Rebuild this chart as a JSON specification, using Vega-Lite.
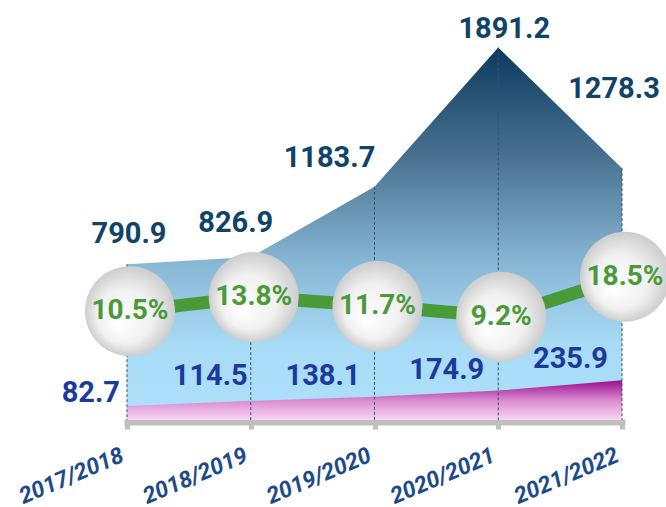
{
  "$schema": "https://vega.github.io/schema/vega-lite/v6.json",
  "width": 495,
  "height": 420,
  "autosize": {"type": "none"},
  "padding": {"left": 127, "top": 0, "right": 44, "bottom": 87},
  "background": "white",
  "config": {"view": {"stroke": null}, "font": "Roboto"},
  "data": {
    "values": [
      {"year": "2017/2018", "total": 790.9, "part": 82.7, "ratio": 0.105},
      {"year": "2018/2019", "total": 826.9, "part": 114.5, "ratio": 0.138},
      {"year": "2019/2020", "total": 1183.7, "part": 138.1, "ratio": 0.117},
      {"year": "2020/2021", "total": 1891.2, "part": 174.9, "ratio": 0.092},
      {"year": "2021/2022", "total": 1278.3, "part": 235.9, "ratio": 0.185}
    ]
  },
  "encoding": {
    "x": {
      "field": "year",
      "type": "ordinal",
      "sort": null,
      "scale": {"type": "point", "padding": 0},
      "axis": {
        "title": null,
        "offset": 2,
        "domainColor": "#bfbfbf",
        "domainWidth": 6,
        "domainCap": "square",
        "ticks": true,
        "tickColor": "#bfbfbf",
        "tickWidth": 5,
        "tickSize": 7,
        "labelAngle": -23,
        "labelAlign": "right",
        "labelBaseline": "middle",
        "labelPadding": 25,
        "labelOffset": -5,
        "labelFont": "Roboto",
        "labelFontWeight": "bold",
        "labelFontStyle": "italic",
        "labelFontSize": 23,
        "labelColor": "#1d4a8a",
        "labelOverlap": false,
        "labelLimit": 0,
        "grid": false
      }
    }
  },
  "layer": [
    {
      "mark": {
        "type": "area",
        "interpolate": "linear",
        "fill": {
          "gradient": "linear", "x1": 0, "y1": 0, "x2": 0, "y2": 1,
          "stops": [
            {"offset": 0, "color": "#0d3a5e"},
            {"offset": 0.3, "color": "#4a7391"},
            {"offset": 0.58, "color": "#88b7d5"},
            {"offset": 0.8, "color": "#a8dbf6"},
            {"offset": 1, "color": "#aee0fb"}
          ]
        }
      },
      "encoding": {
        "y": {"field": "total", "type": "quantitative", "scale": {"domain": [0, 2132], "nice": false, "zero": true}, "axis": null}
      }
    },
    {
      "mark": {
        "type": "area",
        "interpolate": "linear",
        "fill": {
          "gradient": "linear", "x1": 0, "y1": 0, "x2": 0, "y2": 1,
          "stops": [
            {"offset": 0, "color": "#9a0d8c"},
            {"offset": 0.5, "color": "#d98ad0"},
            {"offset": 1, "color": "#fad6f4"}
          ]
        }
      },
      "encoding": {
        "y": {"field": "part", "type": "quantitative", "scale": {"domain": [0, 2500], "nice": false, "zero": true}, "axis": null}
      }
    },
    {
      "mark": {"type": "rule", "color": "#2c5577", "strokeDash": [3, 2], "strokeWidth": 1},
      "encoding": {
        "y": {"field": "total", "type": "quantitative", "scale": {"domain": [0, 2132], "nice": false, "zero": true}, "axis": null},
        "y2": {"datum": 0}
      }
    },
    {
      "mark": {"type": "line", "color": "#4a9a3a", "strokeWidth": 13, "xOffset": 3},
      "encoding": {
        "y": {"field": "ratio", "type": "quantitative", "scale": {"domain": [-0.1481, 0.8286], "nice": false, "zero": false}, "axis": null}
      }
    },
    {
      "mark": {
        "type": "point",
        "filled": true,
        "size": 8100,
        "opacity": 1,
        "xOffset": 3,
        "fill": {
          "gradient": "radial", "x1": 0.35, "y1": 0.65, "r1": 0, "x2": 0.5, "y2": 0.5, "r2": 0.5,
          "stops": [
            {"offset": 0, "color": "#ffffff"},
            {"offset": 0.6, "color": "#f1f1f1"},
            {"offset": 1, "color": "#cdcdcd"}
          ]
        }
      },
      "encoding": {
        "y": {"field": "ratio", "type": "quantitative", "scale": {"domain": [-0.1481, 0.8286], "nice": false, "zero": false}, "axis": null}
      }
    },
    {
      "mark": {"type": "text", "font": "Roboto", "fontWeight": "bold", "fontSize": 28, "color": "#4a9a3a", "dx": 3, "baseline": "middle"},
      "encoding": {
        "y": {"field": "ratio", "type": "quantitative", "scale": {"domain": [-0.1481, 0.8286], "nice": false, "zero": false}, "axis": null},
        "text": {"field": "ratio", "format": ".1%"}
      }
    },
    {
      "transform": [{"filter": "datum.year == '2017/2018'"}],
      "mark": {"type": "text", "font": "Roboto", "fontWeight": "bold", "fontSize": 29, "color": "#0f4468", "baseline": "middle", "dx": 2, "dy": -30},
      "encoding": {
        "y": {"field": "total", "type": "quantitative", "scale": {"domain": [0, 2132], "nice": false, "zero": true}, "axis": null},
        "text": {"field": "total", "format": ".1f"}
      }
    },
    {
      "transform": [{"filter": "datum.year == '2018/2019'"}],
      "mark": {"type": "text", "font": "Roboto", "fontWeight": "bold", "fontSize": 29, "color": "#0f4468", "baseline": "middle", "dx": -15, "dy": -34},
      "encoding": {
        "y": {"field": "total", "type": "quantitative", "scale": {"domain": [0, 2132], "nice": false, "zero": true}, "axis": null},
        "text": {"field": "total", "format": ".1f"}
      }
    },
    {
      "transform": [{"filter": "datum.year == '2019/2020'"}],
      "mark": {"type": "text", "font": "Roboto", "fontWeight": "bold", "fontSize": 29, "color": "#0f4468", "baseline": "middle", "dx": -45, "dy": -29},
      "encoding": {
        "y": {"field": "total", "type": "quantitative", "scale": {"domain": [0, 2132], "nice": false, "zero": true}, "axis": null},
        "text": {"field": "total", "format": ".1f"}
      }
    },
    {
      "transform": [{"filter": "datum.year == '2020/2021'"}],
      "mark": {"type": "text", "font": "Roboto", "fontWeight": "bold", "fontSize": 29, "color": "#0f4468", "baseline": "middle", "dx": 6, "dy": -18},
      "encoding": {
        "y": {"field": "total", "type": "quantitative", "scale": {"domain": [0, 2132], "nice": false, "zero": true}, "axis": null},
        "text": {"field": "total", "format": ".1f"}
      }
    },
    {
      "transform": [{"filter": "datum.year == '2021/2022'"}],
      "mark": {"type": "text", "font": "Roboto", "fontWeight": "bold", "fontSize": 29, "color": "#0f4468", "baseline": "middle", "dx": -8, "dy": -79},
      "encoding": {
        "y": {"field": "total", "type": "quantitative", "scale": {"domain": [0, 2132], "nice": false, "zero": true}, "axis": null},
        "text": {"field": "total", "format": ".1f"}
      }
    },
    {
      "transform": [{"filter": "datum.year == '2017/2018'"}],
      "mark": {"type": "text", "font": "Roboto", "fontWeight": "bold", "fontSize": 29, "color": "#1c3a9c", "baseline": "middle", "align": "right", "dx": -7, "dy": -13},
      "encoding": {
        "y": {"field": "part", "type": "quantitative", "scale": {"domain": [0, 2500], "nice": false, "zero": true}, "axis": null},
        "text": {"field": "part", "format": ".1f"}
      }
    },
    {
      "transform": [{"filter": "datum.year == '2018/2019'"}],
      "mark": {"type": "text", "font": "Roboto", "fontWeight": "bold", "fontSize": 29, "color": "#1c3a9c", "baseline": "middle", "align": "right", "dx": -3, "dy": -25},
      "encoding": {
        "y": {"field": "part", "type": "quantitative", "scale": {"domain": [0, 2500], "nice": false, "zero": true}, "axis": null},
        "text": {"field": "part", "format": ".1f"}
      }
    },
    {
      "transform": [{"filter": "datum.year != '2017/2018' && datum.year != '2018/2019'"}],
      "mark": {"type": "text", "font": "Roboto", "fontWeight": "bold", "fontSize": 29, "color": "#1c3a9c", "baseline": "middle", "align": "right", "dx": -14, "dy": -21},
      "encoding": {
        "y": {"field": "part", "type": "quantitative", "scale": {"domain": [0, 2500], "nice": false, "zero": true}, "axis": null},
        "text": {"field": "part", "format": ".1f"}
      }
    }
  ],
  "resolve": {"scale": {"y": "independent"}}
}
